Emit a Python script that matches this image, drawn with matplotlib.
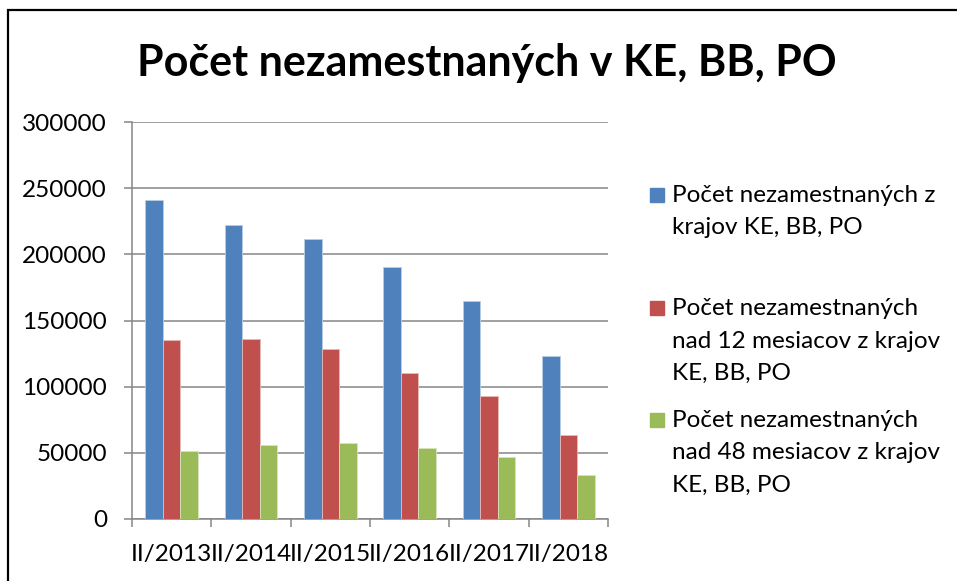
import numpy as np
import matplotlib
matplotlib.use('Agg')
import matplotlib.pyplot as plt
from matplotlib.patches import Rectangle

plt.rcParams['font.family'] = ['Lato', 'DejaVu Sans']

# data
years = ['II/2013', 'II/2014', 'II/2015', 'II/2016', 'II/2017', 'II/2018']
total = [241500, 222500, 212000, 190500, 164600, 123200]
over12 = [135600, 135800, 128500, 110600, 92700, 63000]
over48 = [51200, 55700, 57000, 53200, 46600, 33300]

series_names = [
    ['Počet nezamestnaných z', 'krajov KE, BB, PO'],
    ['Počet nezamestnaných', 'nad 12 mesiacov z krajov', 'KE, BB, PO'],
    ['Počet nezamestnaných', 'nad 48 mesiacov z krajov', 'KE, BB, PO'],
]
colors = ['#4F81BD', '#C0504D', '#9BBB59']
edges = ['#B9CDE5', '#E6B9B8', '#D7E4BD']

W, H = 957, 581
fs = 17.5
fig = plt.figure(figsize=(W / 100, H / 100), dpi=100)
ax = fig.add_axes([132 / W, 1 - 518.7 / H, (608 - 132) / W, (518.7 - 122.3) / H])

x = np.arange(len(years))
w = 1 / 4.5
for k, vals in enumerate([total, over12, over48]):
    ax.bar(x + (k - 1) * w, vals, width=w, color=colors[k],
           edgecolor=edges[k], linewidth=0.6, zorder=3)

ax.set_xlim(-0.5, len(years) - 0.5)
ax.set_ylim(0, 300000)
ax.set_yticks(np.arange(0, 300001, 50000))
ax.set_yticklabels([str(v) for v in range(0, 300001, 50000)])
ax.yaxis.grid(True, color='#868686', linewidth=1.1, zorder=0)

ax.set_xticks(x)
ax.set_xticklabels(years)
ax.set_xticks(np.arange(-0.5, len(years), 1), minor=True)
ax.tick_params(axis='x', which='major', length=0, pad=18, labelsize=fs)
ax.tick_params(axis='x', which='minor', length=6, width=1.1, color='#868686')
ax.tick_params(axis='y', length=6, width=1.1, color='#868686', pad=12, labelsize=fs)

for s in ['top', 'right']:
    ax.spines[s].set_visible(False)
for s in ['left', 'bottom']:
    ax.spines[s].set_color('#868686')
    ax.spines[s].set_linewidth(1.1)

fig.text(487 / W, 1 - 76 / H, 'Počet nezamestnaných v KE, BB, PO',
         ha='center', va='baseline', fontsize=31, fontweight='bold')

# legend drawn by hand: square next to the first line of each entry
first_base = [201.7, 315, 426.7]
for k, lines in enumerate(series_names):
    b = first_base[k]
    fig.patches.append(Rectangle((650 / W, 1 - b / H), 14 / W, 14 / H,
                                 transform=fig.transFigure, color=colors[k]))
    for j, line in enumerate(lines):
        fig.text(672 / W, 1 - (b + j * 32.5) / H, line,
                 ha='left', va='baseline', fontsize=fs)

# chart frame
fig.patches.append(Rectangle((8 / W, -0.05), 1.1, 1 - 10 / H + 0.05,
                             transform=fig.transFigure, fill=False,
                             edgecolor='black', linewidth=1.6))

fig.savefig('out.png', dpi=100)
